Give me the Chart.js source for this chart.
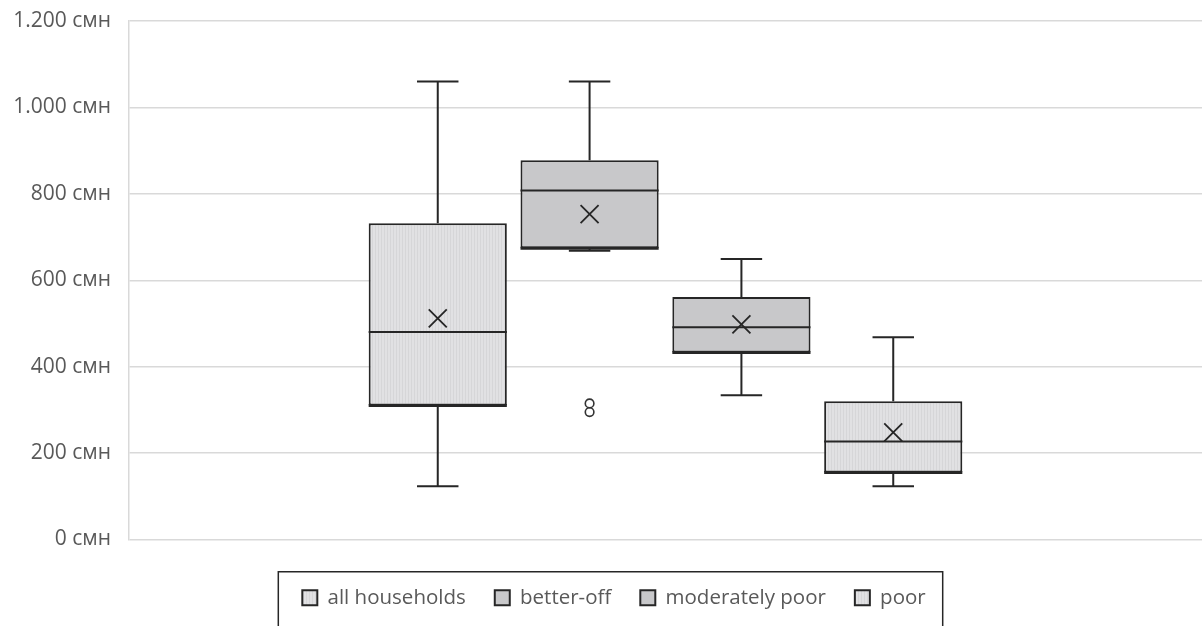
<!DOCTYPE html>
<html>
<head>
<meta charset="utf-8">
<script src="https://cdn.jsdelivr.net/npm/chart.js@4.4.1/dist/chart.umd.min.js"></script>
<style>
  html, body { margin: 0; padding: 0; background: #ffffff; overflow: hidden; }
  #wrap { width: 1202px; height: 626px; }
</style>
</head>
<body>
<div id="wrap"><canvas id="boxChart" width="1202" height="626"></canvas></div>
<script>
// Box plot values (смн)
const categories = [''];
const seriesNames = ['all households', 'better-off', 'moderately poor', 'poor'];
const q1Values = [310, 674, 433, 155];
const q3Values = [732, 878, 561, 320];
const medianValues = [480, 808, 491, 227];
const meanValues = [512, 753, 498, 248];
const minValues = [123, 668, 334, 123];
const maxValues = [1060, 1060, 649, 468];
const outlierValues = [[], [315, 295], [], []];
const yMin = 0;
const yMax = 1200;
const yStep = 200;

// light boxes have fine vertical stripes
function stripePattern(base, stripe) {
    const c = document.createElement('canvas');
    c.width = 3;
    c.height = 3;
    const g = c.getContext('2d');
    g.fillStyle = base;
    g.fillRect(0, 0, 3, 3);
    g.fillStyle = stripe;
    g.fillRect(0, 0, 1, 3);
    return document.getElementById('boxChart').getContext('2d').createPattern(c, 'repeat');
}

const lightFill = stripePattern('#e1e1e3', '#d6d6d8');
const darkFill = '#c8c8ca';
const fills = [lightFill, darkFill, darkFill, lightFill];
const lineColor = '#262626';

function formatTick(value) {
    return String(value).replace(/\B(?=(\d{3})+(?!\d))/g, '.') + ' смн';
}

// whiskers, median, mean cross and outliers on top of the bars
const boxExtras = {
    id: 'boxExtras',
    afterDatasetsDraw(chart) {
        const ctx = chart.ctx;
        const y = chart.scales.y;
        ctx.save();
        ctx.strokeStyle = lineColor;
        seriesNames.forEach((name, i) => {
            const bar = chart.getDatasetMeta(i).data[0];
            const x = bar.x;
            const half = bar.width / 2;
            const cap = bar.width * 0.15;

            ctx.lineWidth = 2;
            ctx.beginPath();
            // upper whisker
            ctx.moveTo(x, y.getPixelForValue(q3Values[i]));
            ctx.lineTo(x, y.getPixelForValue(maxValues[i]));
            ctx.moveTo(x - cap, y.getPixelForValue(maxValues[i]));
            ctx.lineTo(x + cap, y.getPixelForValue(maxValues[i]));
            // lower whisker
            ctx.moveTo(x, y.getPixelForValue(q1Values[i]));
            ctx.lineTo(x, y.getPixelForValue(minValues[i]));
            ctx.moveTo(x - cap, y.getPixelForValue(minValues[i]));
            ctx.lineTo(x + cap, y.getPixelForValue(minValues[i]));
            // median
            ctx.moveTo(x - half, y.getPixelForValue(medianValues[i]));
            ctx.lineTo(x + half, y.getPixelForValue(medianValues[i]));
            ctx.stroke();

            // box bottom looks heavier in the original
            ctx.lineWidth = 3;
            ctx.beginPath();
            ctx.moveTo(x - half, y.getPixelForValue(q1Values[i]));
            ctx.lineTo(x + half, y.getPixelForValue(q1Values[i]));
            ctx.stroke();

            // mean marker
            const my = y.getPixelForValue(meanValues[i]);
            ctx.lineWidth = 1.8;
            ctx.beginPath();
            ctx.moveTo(x - 9, my - 9);
            ctx.lineTo(x + 9, my + 9);
            ctx.moveTo(x - 9, my + 9);
            ctx.lineTo(x + 9, my - 9);
            ctx.stroke();

            // outliers
            ctx.lineWidth = 1.6;
            ctx.strokeStyle = '#333333';
            outlierValues[i].forEach(v => {
                ctx.beginPath();
                ctx.arc(x, y.getPixelForValue(v), 4.3, 0, Math.PI * 2);
                ctx.stroke();
            });
            ctx.strokeStyle = lineColor;
        });
        ctx.restore();
    }
};

// legend sits a little right of centre in the original
const legendShift = {
    id: 'legendShift',
    afterLayout(chart) {
        chart.legend.left += 13;
        chart.legend.right += 13;
    }
};

// frame around the legend, it runs off the bottom of the picture
const legendFrame = {
    id: 'legendFrame',
    afterDraw(chart) {
        const boxes = chart.legend.legendHitBoxes;
        if (!boxes || !boxes.length) return;
        const first = boxes[0];
        const last = boxes[boxes.length - 1];
        const mid = first.top + first.height / 2;
        const left = first.left - 24;
        const right = last.left + last.width + 17;
        const top = mid - 26;
        const ctx = chart.ctx;
        ctx.save();
        ctx.strokeStyle = lineColor;
        ctx.lineWidth = 1.5;
        ctx.strokeRect(left, top, right - left, chart.height + 20 - top);
        ctx.restore();
    }
};

const datasets = seriesNames.map((name, i) => ({
    label: name,
    data: [[q1Values[i], q3Values[i]]],
    backgroundColor: fills[i],
    borderColor: lineColor,
    borderWidth: 2,
    borderSkipped: false,
    barPercentage: 0.91,
    categoryPercentage: 0.566
}));

new Chart(document.getElementById('boxChart'), {
    type: 'bar',
    data: {
        labels: categories,
        datasets: datasets
    },
    options: {
        responsive: false,
        animation: false,
        layout: {
            padding: { top: 21, right: 0, bottom: 8, left: 0 }
        },
        plugins: {
            tooltip: { enabled: false },
            legend: {
                position: 'bottom',
                labels: {
                    boxWidth: 15,
                    boxHeight: 15,
                    padding: 29,
                    color: '#595959',
                    font: { family: "'Open Sans', sans-serif", size: 20.5 }
                }
            }
        },
        scales: {
            x: {
                grid: { display: false },
                border: { display: false },
                ticks: { display: false },
                afterFit(scale) { scale.height = 19; }
            },
            y: {
                min: yMin,
                max: yMax,
                ticks: {
                    stepSize: yStep,
                    padding: 0,
                    color: '#595959',
                    font: { family: "'Open Sans', sans-serif", size: 21 },
                    callback: formatTick
                },
                grid: {
                    color: '#d9d9d9',
                    lineWidth: 1.5,
                    drawTicks: true,
                    tickLength: 18,
                    tickColor: 'rgba(0,0,0,0)'
                },
                border: { display: true, color: '#d9d9d9', width: 1.5 },
                afterFit(scale) { scale.width = 129; }
            }
        }
    },
    plugins: [boxExtras, legendShift, legendFrame]
});
</script>
</body>
</html>
